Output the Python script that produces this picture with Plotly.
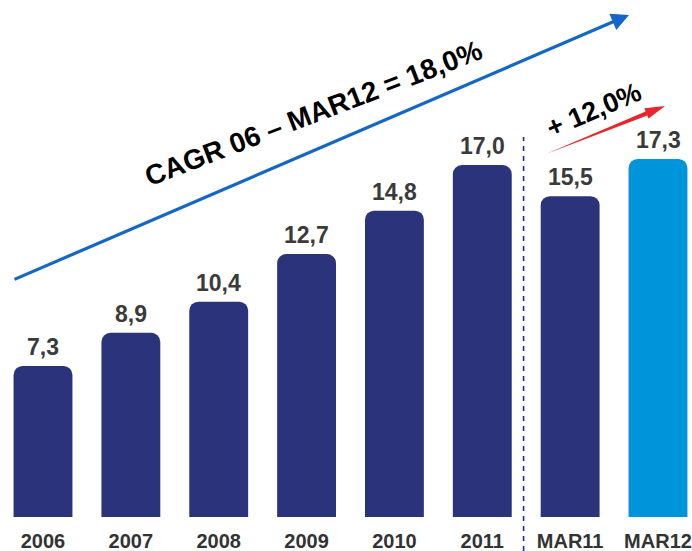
import plotly.graph_objects as go
import math

categories = ["2006", "2007", "2008", "2009", "2010", "2011", "MAR11", "MAR12"]
values = [7.3, 8.9, 10.4, 12.7, 14.8, 17.0, 15.5, 17.3]
value_labels = ["7,3", "8,9", "10,4", "12,7", "14,8", "17,0", "15,5", "17,3"]
cagr_text = "CAGR 06 – MAR12 = 18,0%"
growth_text = "+ 12,0%"

NAVY = "#2B337A"
LIGHT = "#0095DA"
bar_colors = [NAVY] * 7 + [LIGHT]
FONT = "Liberation Sans, Arial, sans-serif"

W, H = 692, 551
PLOT_BOTTOM = 517  # pixel y of plot bottom (margin b = 34)


def px(x, y):
    """pixel -> paper coordinates (plot area spans full width, top 0..517)."""
    return x / W, (PLOT_BOTTOM - y) / PLOT_BOTTOM


fig = go.Figure()
fig.add_trace(go.Bar(
    x=categories,
    y=values,
    marker=dict(color=bar_colors, cornerradius=9, line=dict(width=0)),
    width=0.67,
    hoverinfo="skip",
))

annotations = []
for i, (v, t) in enumerate(zip(values, value_labels)):
    annotations.append(dict(
        x=i, y=v, xref="x", yref="y", text=t, showarrow=False,
        yanchor="bottom", yshift=4,
        font=dict(family=FONT, size=23, color="#3A3A3A", weight="bold"),
    ))

# blue CAGR arrow
hx, hy = px(629, 15)
annotations.append(dict(
    x=hx, y=hy, xref="paper", yref="paper", text="", showarrow=True,
    ax=13 - 629, ay=280 - 15, axref="pixel", ayref="pixel",
    arrowhead=2, arrowsize=1.1, arrowwidth=3.2, arrowcolor="#1467C8",
))

cx, cy = px(313, 113)
annotations.append(dict(
    x=cx, y=cy, xref="paper", yref="paper", text=cagr_text, showarrow=False,
    textangle=-21, xanchor="center", yanchor="middle",
    font=dict(family=FONT, size=28, color="#000000", weight="bold"),
))

gx, gy = px(594, 110)
annotations.append(dict(
    x=gx, y=gy, xref="paper", yref="paper", text=growth_text, showarrow=False,
    textangle=-23, xanchor="center", yanchor="middle",
    font=dict(family=FONT, size=27, color="#000000", weight="bold"),
))

# red tapered arrow (decoration)
tail = (546, 154)
tip = (665, 106)
dx, dy = tip[0] - tail[0], tip[1] - tail[1]
L = math.hypot(dx, dy)
ux, uy = dx / L, dy / L
nx, ny = -uy, ux
bx, by = tip[0] - 20 * ux, tip[1] - 20 * uy
pts = [
    tail,
    (bx + 2.2 * nx, by + 2.2 * ny),
    (bx + 5.5 * nx, by + 5.5 * ny),
    tip,
    (bx - 5.5 * nx, by - 5.5 * ny),
    (bx - 2.2 * nx, by - 2.2 * ny),
]
path = "M " + " L ".join("{:.4f},{:.4f}".format(*px(*p)) for p in pts) + " Z"

dl_top = px(524, 137)[1]
dl_bot = px(524, 551)[1]

shapes = [
    dict(type="path", path=path, xref="paper", yref="paper",
         fillcolor="#E8252B", line=dict(width=0)),
    dict(type="line", xref="x", yref="paper", x0=5.47, x1=5.47, y0=dl_bot, y1=dl_top,
         line=dict(color="#1F2A8C", width=1.6, dash="5px,5px")),
]

# pixel mapping: index 0 -> 43px, index 7 -> 658px
step = (658 - 43) / 7
x_lo = -43 / step
x_hi = (W - 43) / step

fig.update_layout(
    width=W, height=H,
    margin=dict(l=0, r=0, t=0, b=H - PLOT_BOTTOM, autoexpand=False),
    paper_bgcolor="white", plot_bgcolor="white",
    showlegend=False,
    annotations=annotations,
    shapes=shapes,
    xaxis=dict(
        type="category", range=[x_lo, x_hi], showgrid=False, zeroline=False,
        showline=False, ticks="", ticklabelstandoff=10,
        tickfont=dict(family=FONT, size=20, color="#333333", weight="bold"),
        fixedrange=True,
    ),
    yaxis=dict(range=[0, PLOT_BOTTOM / 20.7], visible=False, fixedrange=True),
)

fig.write_html(
    "out.html",
    config={"displayModeBar": False},
    post_script="document.body.style.margin='0';document.body.style.overflow='hidden';",
)
